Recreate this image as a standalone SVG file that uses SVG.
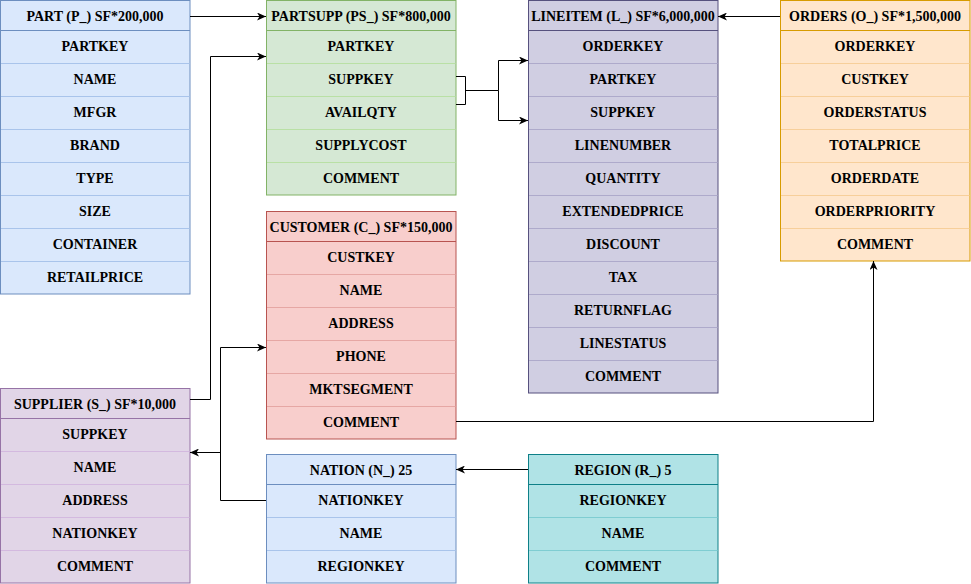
<svg xmlns="http://www.w3.org/2000/svg" width="971" height="584" viewBox="0 0 971 584">
<style>
text{font-family:'Liberation Serif','Times New Roman','DejaVu Serif',serif;font-weight:700;font-size:14px;text-anchor:middle;dominant-baseline:central;fill:#000}
.c{fill:none;stroke:#000;stroke-width:1}
.blue .o{fill:#dae8fc;stroke:#6c8ebf}.blue .r{fill:none;stroke:#a9c4eb}
.green .o{fill:#d5e8d4;stroke:#82b366}.green .r{fill:none;stroke:#b9e0a5}
.purple .o{fill:#d0cee2;stroke:#56517e}.purple .r{fill:none;stroke:#aeaacb}
.orange .o{fill:#ffe6cc;stroke:#d79b00}.orange .r{fill:none;stroke:#f7cf9a}
.red .o{fill:#f8cecc;stroke:#b85450}.red .r{fill:none;stroke:#e6a7a4}
.violet .o{fill:#e1d5e7;stroke:#9673a6}.violet .r{fill:none;stroke:#d3b9df}
.teal .o{fill:#b0e3e6;stroke:#0e8088}.teal .r{fill:none;stroke:#7fcdd2}
</style>
<defs>
<marker id="ar" markerWidth="10" markerHeight="8" refX="9" refY="4" orient="auto" markerUnits="userSpaceOnUse">
<path d="M0,0 L9,4 L0,8 L2.5,4 Z" fill="#000"/>
</marker>
</defs>
<g font-family="Liberation Serif, serif">
<g id="part" class="blue">
<rect class="o" x="0.5" y="0.5" width="189.5" height="293.5"/>
<path class="r" d="M1 63.5H189.5M1 96.5H189.5M1 129.5H189.5M1 162.5H189.5M1 195.5H189.5M1 228.5H189.5M1 261.5H189.5"/>
<line x1="0.5" y1="30.5" x2="190" y2="30.5" stroke="#6c8ebf"/>
<text x="95" y="16">PART (P_) SF*200,000</text>
<text x="95" y="46.5">PARTKEY</text><text x="95" y="79.5">NAME</text><text x="95" y="112.5">MFGR</text><text x="95" y="145.5">BRAND</text><text x="95" y="178.5">TYPE</text><text x="95" y="211.5">SIZE</text><text x="95" y="244.5">CONTAINER</text><text x="95" y="277.5">RETAILPRICE</text>
</g>

<g id="partsupp" class="green">
<rect class="o" x="266.5" y="0.5" width="189.5" height="194.5"/>
<path class="r" d="M267 63.5H455.5M267 96.5H455.5M267 129.5H455.5M267 162.5H455.5"/>
<line x1="266.5" y1="30.5" x2="456" y2="30.5" stroke="#82b366"/>
<text x="361" y="16">PARTSUPP (PS_) SF*800,000</text>
<text x="361" y="46.5">PARTKEY</text><text x="361" y="79.5">SUPPKEY</text><text x="361" y="112.5">AVAILQTY</text><text x="361" y="145.5">SUPPLYCOST</text><text x="361" y="178.5">COMMENT</text>
</g>

<g id="lineitem" class="purple">
<rect class="o" x="528.5" y="0.5" width="189.5" height="392.5"/>
<path class="r" d="M529 63.5H717.5M529 96.5H717.5M529 129.5H717.5M529 162.5H717.5M529 195.5H717.5M529 228.5H717.5M529 261.5H717.5M529 294.5H717.5M529 327.5H717.5M529 360.5H717.5"/>
<line x1="528.5" y1="30.5" x2="718" y2="30.5" stroke="#56517e"/>
<text x="623" y="16">LINEITEM (L_) SF*6,000,000</text>
<text x="623" y="46.5">ORDERKEY</text><text x="623" y="79.5">PARTKEY</text><text x="623" y="112.5">SUPPKEY</text><text x="623" y="145.5">LINENUMBER</text><text x="623" y="178.5">QUANTITY</text><text x="623" y="211.5">EXTENDEDPRICE</text><text x="623" y="244.5">DISCOUNT</text><text x="623" y="277.5">TAX</text><text x="623" y="310.5">RETURNFLAG</text><text x="623" y="343.5">LINESTATUS</text><text x="623" y="376.5">COMMENT</text>
</g>

<g id="orders" class="orange">
<rect class="o" x="780.5" y="0.5" width="189.5" height="260.5"/>
<path class="r" d="M781 63.5H969.5M781 96.5H969.5M781 129.5H969.5M781 162.5H969.5M781 195.5H969.5M781 228.5H969.5"/>
<line x1="780.5" y1="30.5" x2="970" y2="30.5" stroke="#d79b00"/>
<text x="875" y="16">ORDERS (O_) SF*1,500,000</text>
<text x="875" y="46.5">ORDERKEY</text><text x="875" y="79.5">CUSTKEY</text><text x="875" y="112.5">ORDERSTATUS</text><text x="875" y="145.5">TOTALPRICE</text><text x="875" y="178.5">ORDERDATE</text><text x="875" y="211.5">ORDERPRIORITY</text><text x="875" y="244.5">COMMENT</text>
</g>

<g id="customer" class="red">
<rect class="o" x="266.5" y="211.5" width="189.5" height="227.5"/>
<path class="r" d="M267 274.5H455.5M267 307.5H455.5M267 340.5H455.5M267 373.5H455.5M267 406.5H455.5"/>
<line x1="266.5" y1="241.5" x2="456" y2="241.5" stroke="#b85450"/>
<text x="361" y="227">CUSTOMER (C_) SF*150,000</text>
<text x="361" y="257.5">CUSTKEY</text><text x="361" y="290.5">NAME</text><text x="361" y="323.5">ADDRESS</text><text x="361" y="356.5">PHONE</text><text x="361" y="389.5">MKTSEGMENT</text><text x="361" y="422.5">COMMENT</text>
</g>

<g id="supplier" class="violet">
<rect class="o" x="0.5" y="388.5" width="189.5" height="194.5"/>
<path class="r" d="M1 451.5H189.5M1 484.5H189.5M1 517.5H189.5M1 550.5H189.5"/>
<line x1="0.5" y1="418.5" x2="190" y2="418.5" stroke="#9673a6"/>
<text x="95" y="404">SUPPLIER (S_) SF*10,000</text>
<text x="95" y="434.5">SUPPKEY</text><text x="95" y="467.5">NAME</text><text x="95" y="500.5">ADDRESS</text><text x="95" y="533.5">NATIONKEY</text><text x="95" y="566.5">COMMENT</text>
</g>

<g id="nation" class="blue">
<rect class="o" x="266.5" y="454.5" width="189.5" height="128.5"/>
<path class="r" d="M267 517.5H455.5M267 550.5H455.5"/>
<line x1="266.5" y1="484.5" x2="456" y2="484.5" stroke="#6c8ebf"/>
<text x="361" y="470">NATION (N_) 25</text>
<text x="361" y="500.5">NATIONKEY</text><text x="361" y="533.5">NAME</text><text x="361" y="566.5">REGIONKEY</text>
</g>

<g id="region" class="teal">
<rect class="o" x="528.5" y="454.5" width="189.5" height="128.5"/>
<path class="r" d="M529 517.5H717.5M529 550.5H717.5"/>
<line x1="528.5" y1="484.5" x2="718" y2="484.5" stroke="#0e8088"/>
<text x="623" y="470">REGION (R_) 5</text>
<text x="623" y="500.5">REGIONKEY</text><text x="623" y="533.5">NAME</text><text x="623" y="566.5">COMMENT</text>
</g>
</g>
<g id="connectors">
<path class="c" d="M190 16.5H266" marker-end="url(#ar)"/>
<path class="c" d="M190 399.5H210.5V56.5H266" marker-end="url(#ar)"/>
<path class="c" d="M456 76.5H465.5V104.5H456" stroke="#555"/>
<path class="c" d="M465.5 90.5H498.5"/>
<path class="c" d="M498.5 90.5V60.5H528" marker-end="url(#ar)"/>
<path class="c" d="M498.5 90.5V120.5H528" marker-end="url(#ar)"/>
<path class="c" d="M780 16.5H718" marker-end="url(#ar)"/>
<path class="c" d="M456 421.5H873.5V261" marker-end="url(#ar)"/>
<path class="c" d="M266 500.5H220.5V347.5H266" marker-end="url(#ar)"/>
<path class="c" d="M220.5 452.5H190" marker-end="url(#ar)"/>
<path class="c" d="M528 469.5H456" marker-end="url(#ar)"/>
</g>
</svg>
